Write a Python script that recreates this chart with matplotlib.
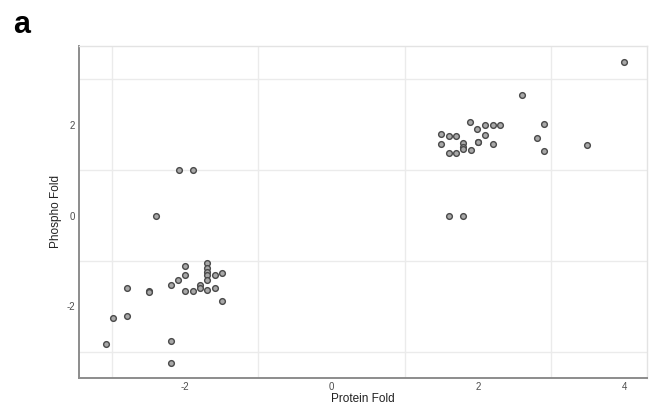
import numpy as np
import matplotlib
matplotlib.use('Agg')
from matplotlib import pyplot as plt
from matplotlib.ticker import FixedLocator

# Protein fold vs phospho fold per site
protein_down = [-2.09, -1.90, -2.40, -2.00, -2.00, -2.10, -2.20, -1.70, -1.70, -1.70,
                -1.70, -1.70, -1.60, -1.50, -1.80, -1.80, -2.00, -1.90, -1.70, -1.60,
                -1.50, -2.50, -2.50, -2.80, -2.80, -2.99, -3.09, -2.19, -2.19]
phospho_down = [1.00, 1.00, 0.00, -1.12, -1.32, -1.42, -1.54, -1.05, -1.16, -1.25,
                -1.32, -1.42, -1.32, -1.27, -1.53, -1.60, -1.67, -1.67, -1.64, -1.60,
                -1.89, -1.66, -1.69, -1.59, -2.21, -2.25, -2.84, -2.77, -3.25]

protein_up = [4.00, 2.60, 1.89, 2.90, 1.99, 2.10, 2.20, 2.30, 2.10, 1.50,
              1.61, 1.70, 2.80, 1.50, 1.80, 1.80, 1.80, 1.90, 2.00, 2.00,
              2.20, 2.90, 3.49, 1.60, 1.70, 1.60, 1.80]
phospho_up = [3.39, 2.66, 2.07, 2.01, 1.90, 2.00, 2.00, 2.00, 1.78, 1.80,
              1.76, 1.76, 1.72, 1.58, 1.59, 1.52, 1.46, 1.45, 1.63, 1.63,
              1.58, 1.42, 1.56, 1.37, 1.37, 0.00, 0.00]

x = np.array(protein_down + protein_up)
y = np.array(phospho_down + phospho_up)

plt.rcParams['font.family'] = ['Liberation Sans', 'DejaVu Sans']
plt.rcParams['axes.unicode_minus'] = False

fig = plt.figure(figsize=(6.49, 4.17), dpi=100)
ax = fig.add_axes([0.122, 0.094, 0.875, 0.796])

ax.scatter(x, y, s=17, facecolor='#a8a8a8', edgecolor='#4a4a4a', linewidth=1.0, zorder=3)

ax.set_xlim(-3.45, 4.31)
ax.set_ylim(-3.575, 3.74)
ax.xaxis.set_major_locator(FixedLocator([-2, 0, 2, 4]))
ax.yaxis.set_major_locator(FixedLocator([-2, 0, 2]))
ax.xaxis.set_minor_locator(FixedLocator([-3, -1, 1, 3]))
ax.yaxis.set_minor_locator(FixedLocator([-3, -1, 1, 3]))
ax.grid(which='minor', color='#ebebeb', linewidth=1.0)
ax.grid(which='major', visible=False)
ax.set_axisbelow(True)

ax.tick_params(which='both', length=0, labelsize=7, labelcolor='#4d4d4d', pad=3)

for side in ['left', 'bottom']:
    ax.spines[side].set_color('#8c8c8c')
    ax.spines[side].set_linewidth(1.4)
for side in ['top', 'right']:
    ax.spines[side].set_color('#e3e3e3')
    ax.spines[side].set_linewidth(1.0)

ax.set_xlabel('Protein Fold', fontsize=8.5, color='#222222', labelpad=1)
ax.set_ylabel('Phospho Fold', fontsize=8.5, color='#222222', labelpad=3)

fig.text(0.02, 0.975, 'a', fontsize=22, fontweight='bold', va='top', ha='left')

fig.savefig('out.png', dpi=100)
